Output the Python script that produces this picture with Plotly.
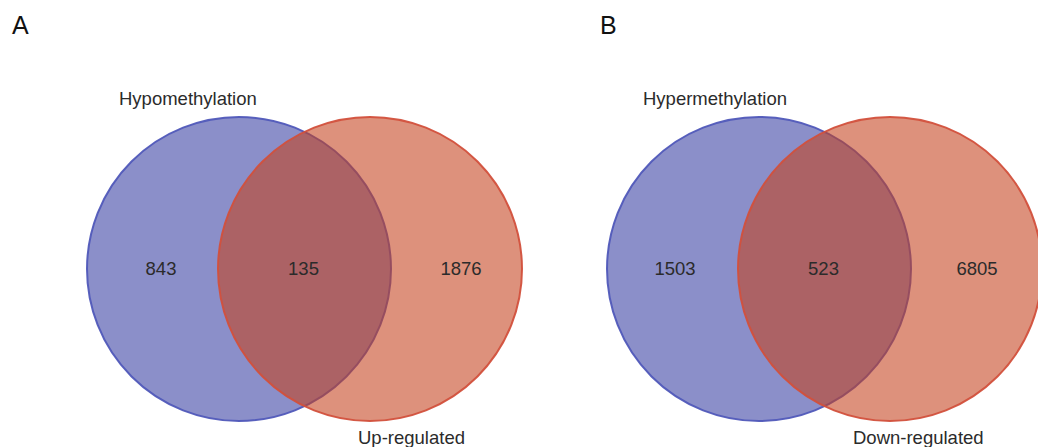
import plotly.graph_objects as go

# ---- data ----
panel_letters = ["A", "B"]
left_set_labels = ["Hypomethylation", "Hypermethylation"]
right_set_labels = ["Up-regulated", "Down-regulated"]
left_only_counts = [843, 1503]
overlap_counts = [135, 523]
right_only_counts = [1876, 6805]

# ---- layout (page-pixel coordinates) ----
W, H = 1038, 447
panel_offsets = [0, 520]
radius = 152
cy = 269
left_cx = 239
right_cx = 370
# per-panel text placement tweaks
left_count_dx = [-78, -84]
right_count_dx = [91, 87]
left_label_dx = [-51, -44]
right_label_dx = [41, 28]

blue_fill = "rgba(62,68,165,0.6)"
blue_line = "rgba(80,88,185,0.95)"
red_fill = "rgba(196,66,30,0.58)"
red_line = "rgba(210,80,60,0.95)"
text_color = "#2b2b2b"
font_family = "Liberation Sans, Arial, Helvetica, sans-serif"

fig = go.Figure()
shapes = []
annotations = []

for i, off in enumerate(panel_offsets):
    lcx = left_cx + off
    rcx = right_cx + off
    shapes.append(dict(type="circle", xref="x", yref="y",
                       x0=lcx - radius, x1=lcx + radius, y0=cy - radius, y1=cy + radius,
                       fillcolor=blue_fill, line=dict(color=blue_line, width=2), layer="below"))
    shapes.append(dict(type="circle", xref="x", yref="y",
                       x0=rcx - radius, x1=rcx + radius, y0=cy - radius, y1=cy + radius,
                       fillcolor=red_fill, line=dict(color=red_line, width=2), layer="below"))
    # counts
    xs = [lcx + left_count_dx[i], (rcx - radius + lcx + radius) / 2 - 1, rcx + right_count_dx[i]]
    vals = [left_only_counts[i], overlap_counts[i], right_only_counts[i]]
    fig.add_trace(go.Scatter(x=xs, y=[cy + 1] * 3, mode="text",
                             text=[str(v) for v in vals],
                             textfont=dict(size=18.5, color=text_color, family=font_family),
                             hoverinfo="skip", showlegend=False))
    # set labels
    annotations.append(dict(x=lcx + left_label_dx[i], y=98, xref="x", yref="y", text=left_set_labels[i],
                            showarrow=False, font=dict(size=18.5, color=text_color, family=font_family)))
    annotations.append(dict(x=rcx + right_label_dx[i], y=437, xref="x", yref="y",
                            text=right_set_labels[i], showarrow=False,
                            font=dict(size=18.5, color=text_color, family=font_family)))
    annotations.append(dict(x=10 + off * (588 / 520), y=25, xref="x", yref="y",
                            text=panel_letters[i], showarrow=False, xanchor="left",
                            font=dict(size=25, color="#111111", family=font_family)))

fig.update_layout(
    width=W, height=H,
    margin=dict(l=0, r=0, t=0, b=0),
    paper_bgcolor="white", plot_bgcolor="white",
    xaxis=dict(range=[0, W], visible=False, fixedrange=True),
    yaxis=dict(range=[H, 0], visible=False, fixedrange=True),
    shapes=shapes,
    annotations=annotations,
    showlegend=False,
)

fig.write_html("out.html",
               config={"displayModeBar": False},
               post_script="document.body.style.margin='0';document.body.style.overflow='hidden';")
